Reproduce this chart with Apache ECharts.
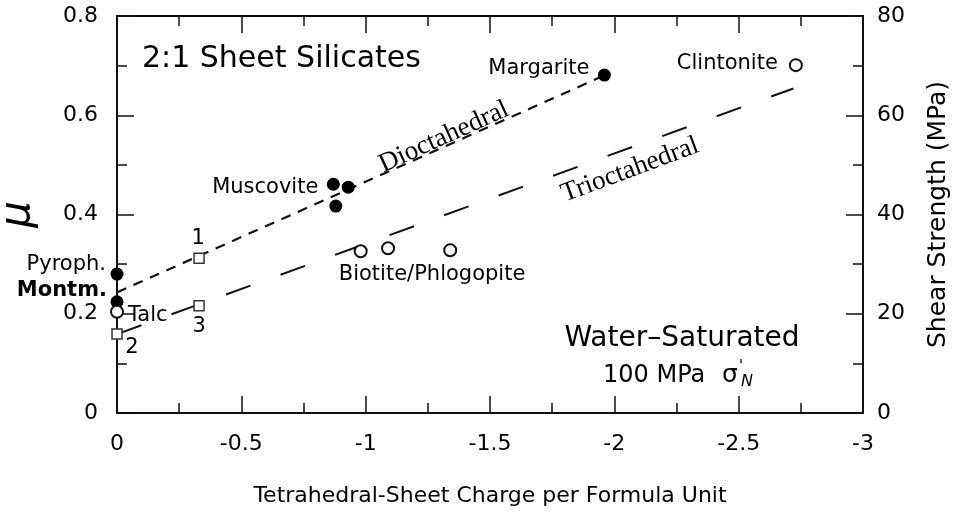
<!DOCTYPE html>
<html><head><meta charset="utf-8">
<script src="https://cdn.jsdelivr.net/npm/echarts@6/dist/echarts.min.js"></script>
<style>html,body{margin:0;padding:0;background:#fff}#c{width:961px;height:516px}</style>
</head><body><div id="c"></div>
<script>
// ---- data ----
const dioctaNames = ['Pyroph.', 'Montm.', 'Muscovite', '', '', 'Margarite'];
const dioctaX = [0, 0, -0.87, -0.93, -0.88, -1.96];
const dioctaY = [0.280, 0.224, 0.461, 0.455, 0.417, 0.681];

const trioctaNames = ['Talc', '', 'Biotite/Phlogopite', '', 'Clintonite'];
const trioctaX = [0, -0.98, -1.09, -1.34, -2.73];
const trioctaY = [0.204, 0.326, 0.332, 0.328, 0.701];

const squareNames = ['1', '2', '3'];
const squareX = [-0.33, 0, -0.33];
const squareY = [0.312, 0.159, 0.216];

const dioctaLineX = [0, -1.95];
const dioctaLineY = [0.243, 0.678];
const trioctaLineX = [0, -2.72];
const trioctaLineY = [0.159, 0.654];

const xTickValues = [0, -0.5, -1, -1.5, -2, -2.5, -3];
const muTickValues = [0, 0.2, 0.4, 0.6, 0.8];
const shearTickValues = [0, 20, 40, 60, 80];

// ---- styles ----
const FONT = 'DejaVu Sans';
const INK = '#000';
const labelStyle = {
  'Pyroph.': { align: 'right', offset: [-11, -10] },
  'Montm.': { align: 'right', offset: [-10, -11], fontWeight: 'bold' },
  'Muscovite': { align: 'right', offset: [-15, 3] },
  'Margarite': { align: 'right', offset: [-15, -7] },
  'Talc': { align: 'left', offset: [11, 4] },
  'Biotite/Phlogopite': { align: 'center', offset: [44, 26] },
  'Clintonite': { align: 'right', offset: [-18, -2] },
  '1': { align: 'center', offset: [-1, -20] },
  '2': { align: 'center', offset: [15, 13] },
  '3': { align: 'center', offset: [0, 21] }
};

function pts(names, xs, ys) {
  return xs.map((x, i) => {
    const n = names[i];
    const item = { value: [x, ys[i]], name: n };
    if (n && labelStyle[n]) {
      item.label = Object.assign({ show: true }, labelStyle[n]);
    } else {
      item.label = { show: false };
    }
    return item;
  });
}
function line(xs, ys) { return xs.map((x, i) => [x, ys[i]]); }

const baseLabel = {
  show: true, position: 'inside', formatter: '{b}', color: INK, opacity: 1,
  fontFamily: FONT, fontSize: 21, verticalAlign: 'middle',
  textBorderWidth: 0, textBorderColor: 'transparent'
};

const axisCommon = {
  axisLine: { show: true, onZero: false, lineStyle: { color: '#111', width: 2 } },
  axisTick: { show: true, inside: true, length: 17, lineStyle: { color: '#111', width: 1.5 } },
  minorTick: { show: true, splitNumber: 2, length: 10, lineStyle: { color: '#111', width: 1.5 } },
  splitLine: { show: false },
  minorSplitLine: { show: false }
};
const tickLabel = { color: INK, fontFamily: FONT, fontSize: 22 };
function pick(list) {
  return v => { const t = list.find(k => Math.abs(k - v) < 1e-9); return t === undefined ? '' : String(t); };
}

const chart = echarts.init(document.getElementById('c'), null, { renderer: 'canvas' });
chart.setOption({
  backgroundColor: '#fff',
  animation: false,
  grid: { left: 117, right: 98, top: 16, bottom: 103, containLabel: false, outerBoundsMode: 'none' },
  xAxis: [
    Object.assign({}, axisCommon, {
      type: 'value', position: 'bottom', min: -3, max: 0, interval: 0.5, inverse: true,
      axisLabel: Object.assign({}, tickLabel, { margin: 20, formatter: pick(xTickValues) }),
      name: 'Tetrahedral-Sheet Charge per Formula Unit', nameLocation: 'middle', nameGap: 72,
      nameTextStyle: { color: INK, fontFamily: FONT, fontSize: 22 }
    }),
    Object.assign({}, axisCommon, {
      type: 'value', position: 'top', min: -3, max: 0, interval: 0.5, inverse: true,
      axisLabel: { show: false }
    })
  ],
  yAxis: [
    Object.assign({}, axisCommon, {
      type: 'value', position: 'left', min: 0, max: 0.8, interval: 0.2,
      axisLabel: Object.assign({}, tickLabel, { margin: 19, formatter: pick(muTickValues) }),
      name: 'μ', nameLocation: 'middle', nameGap: 78,
      nameTextStyle: { color: INK, fontFamily: FONT, fontSize: 42, fontStyle: 'italic' }
    }),
    Object.assign({}, axisCommon, {
      type: 'value', position: 'right', min: 0, max: 80, interval: 20,
      axisLabel: Object.assign({}, tickLabel, { margin: 14, formatter: pick(shearTickValues) }),
      name: 'Shear Strength (MPa)', nameLocation: 'middle', nameGap: 63,
      nameTextStyle: { color: INK, fontFamily: FONT, fontSize: 25 }
    })
  ],
  series: [
    {
      name: 'Dioctahedral trend', type: 'line', xAxisIndex: 0, yAxisIndex: 0, z: 1,
      data: line(dioctaLineX, dioctaLineY), symbol: 'none', silent: true,
      lineStyle: { color: '#111', width: 2.2, type: [10, 8] }
    },
    {
      name: 'Trioctahedral trend', type: 'line', xAxisIndex: 0, yAxisIndex: 0, z: 1,
      data: line(trioctaLineX, trioctaLineY), symbol: 'none', silent: true,
      lineStyle: { color: '#111', width: 2, type: [26, 32] }
    },
    {
      name: 'Dioctahedral', type: 'scatter', z: 3, symbol: 'circle', symbolSize: 13,
      itemStyle: { color: '#000', opacity: 1 }, label: baseLabel,
      data: pts(dioctaNames, dioctaX, dioctaY)
    },
    {
      name: 'Trioctahedral', type: 'scatter', z: 3, symbol: 'circle', symbolSize: 12,
      itemStyle: { color: '#fff', borderColor: '#111', borderWidth: 2, opacity: 1 }, label: baseLabel,
      data: pts(trioctaNames, trioctaX, trioctaY)
    },
    {
      name: 'Synthetic', type: 'scatter', z: 3, symbol: 'rect', symbolSize: 10,
      itemStyle: { color: '#fff', borderColor: '#333', borderWidth: 1.5, opacity: 1 }, label: baseLabel,
      data: pts(squareNames, squareX, squareY)
    }
  ],
  graphic: [
    { type: 'text', x: 142, y: 59, style: { text: '2:1 Sheet Silicates', fill: INK, font: '30px "DejaVu Sans"', textAlign: 'left', align: 'left', textVerticalAlign: 'middle', verticalAlign: 'middle' } },
    { type: 'text', x: 682, y: 339, style: { text: 'Water–Saturated', fill: INK, font: '28px "DejaVu Sans"', textAlign: 'center', align: 'center', textVerticalAlign: 'middle', verticalAlign: 'middle' } },
    { type: 'text', x: 603, y: 376, style: { text: '100 MPa', fill: INK, font: '24px "DejaVu Sans"', textAlign: 'left', align: 'left', textVerticalAlign: 'middle', verticalAlign: 'middle' } },
    { type: 'text', x: 722, y: 375, style: { text: 'σ', fill: INK, font: '25px "DejaVu Sans"', textAlign: 'left', align: 'left', textVerticalAlign: 'middle', verticalAlign: 'middle' } },
    { type: 'text', x: 739, y: 367, style: { text: "'", fill: INK, font: '15px "DejaVu Sans"', textAlign: 'left', align: 'left', textVerticalAlign: 'middle', verticalAlign: 'middle' } },
    { type: 'text', x: 741, y: 382, style: { text: 'N', fill: INK, font: 'italic 16px "DejaVu Sans"', textAlign: 'left', align: 'left', textVerticalAlign: 'middle', verticalAlign: 'middle' } },
    { type: 'text', x: 444, y: 137, rotation: 0.428, style: { text: 'Dioctahedral', fill: INK, font: '27px "Liberation Serif"', textAlign: 'center', align: 'center', textVerticalAlign: 'middle', verticalAlign: 'middle' } },
    { type: 'text', x: 630, y: 170, rotation: 0.356, style: { text: 'Trioctahedral', fill: INK, font: '27px "Liberation Serif"', textAlign: 'center', align: 'center', textVerticalAlign: 'middle', verticalAlign: 'middle' } }
  ]
});
</script>
</body></html>
